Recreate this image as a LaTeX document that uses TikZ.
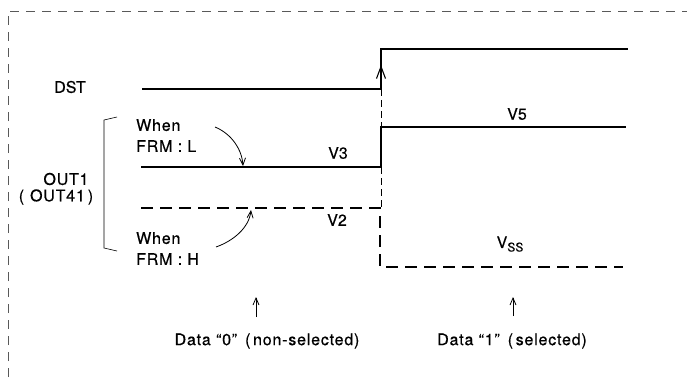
\documentclass[tikz,border=0pt]{standalone}
\usepackage{fontspec}
\setmainfont{TeX Gyre Heros}[FakeBold=0.5]
\usetikzlibrary{arrows.meta}

\tikzset{
  sig/.style={line width=2.8pt},
  sigdash/.style={line width=2.8pt,dash pattern=on 12pt off 7pt},
  guide/.style={line width=0.7pt,dash pattern=on 7pt off 4pt},
  frame/.style={line width=0.8pt,black!65,dash pattern=on 9pt off 7pt},
  lbl/.style={font=\fontsize{16}{21}\selectfont,inner sep=0pt},
  datalbl/.style={lbl,font=\fontsize{16}{21}\selectfont\addfontfeatures{LetterSpace=5}},
  pointer/.style={line width=0.8pt,-{Straight Barb[length=7pt,width=6pt]}},
}

\begin{document}
\begin{tikzpicture}[x=1pt,y=-1pt]
\useasboundingbox (0,0) rectangle (687,377);

% open dashed frame
\draw[frame] (8,377) -- (8,11) -- (687,11);

% DST
\node[lbl] (dst) at (70,87) {DST};
\draw[sig] (142,89) -- (381,89) -- (381,49) -- (628,49);
\coordinate (dsttail) at (381,84);
\coordinate (dsttip) at (381,65);
\draw[line width=1.1pt,-{Straight Barb[length=12pt,width=9pt]}] (dsttail) -- (dsttip);

% guide at the change of data
\draw[guide] (381,89) -- (381,127);
\draw[guide] (381,167) -- (381,208);

% OUT1 (OUT41)
\node[datalbl] (out1) at (66,179) {OUT1};
\node[datalbl] (out41) at (56,197) {(\hspace{6pt}OUT41\hspace{3pt})};
\draw[line width=0.6pt] (117,117) -- (104,120) -- (104,248) -- (117,251);

\draw[sig] (141,167) -- (381,167) -- (381,127) -- (626,127);
\draw[sigdash] (141,208) -- (380,208) -- (380,267) -- (623,267);

\node[lbl] (v3) at (338,153) {V3};
\node[lbl] (v2) at (337,220) {V2};
\node[lbl] (v5) at (517,114) {V5};
\node[lbl] (vss) at (510,244) {V\raisebox{-3.5pt}{\fontsize{12}{12}\selectfont SS}};

% FRM conditions
\node[datalbl,anchor=north west,align=left] (frml) at (136,119) {When\\FRM : L};
\node[datalbl,anchor=north west,align=left] (frmh) at (136,232) {When\\FRM : H};
\coordinate (frmltail) at (215,127);
\coordinate (frmltip) at (243,166);
\coordinate (frmhtail) at (216,247);
\coordinate (frmhtip) at (251,210);
\draw[pointer] (frmltail) .. controls (232,134) and (242,150) .. (frmltip);
\draw[pointer] (frmhtail) .. controls (233,241) and (249,228) .. (frmhtip);

% data
\node[datalbl] (data0) at (267,341) {Data “0”\ \,(\,non-selected)};
\node[datalbl] (data1) at (512,341) {Data “1”\ \,(\,selected)};
\coordinate (d0tail) at (256,317);
\coordinate (d0tip) at (256,297);
\coordinate (d1tail) at (513,316);
\coordinate (d1tip) at (513,297);
\draw[pointer] (d0tail) -- (d0tip);
\draw[pointer] (d1tail) -- (d1tip);
\end{tikzpicture}
\end{document}
